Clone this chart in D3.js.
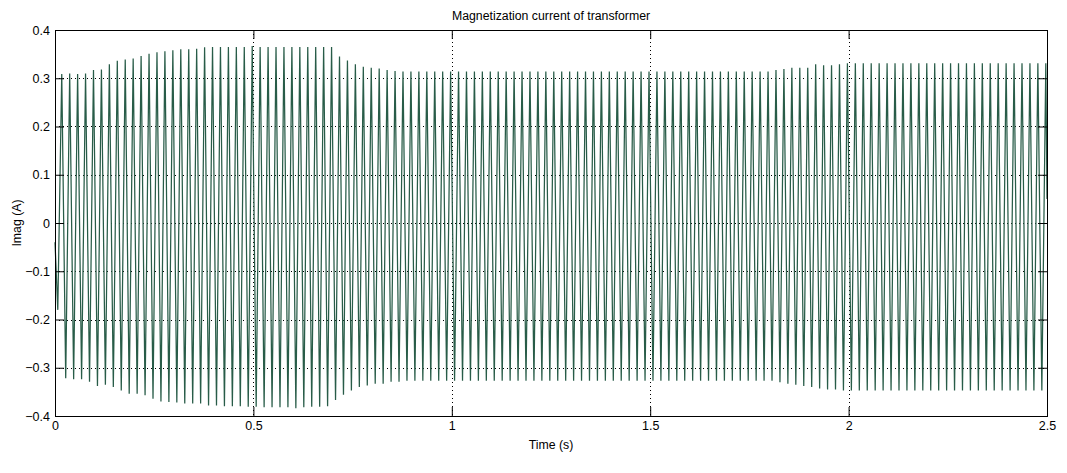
<!DOCTYPE html>
<html>
<head>
<meta charset="utf-8">
<script src="https://cdn.jsdelivr.net/npm/d3@7"></script>
<style>
body { margin: 0; background: #fff; }
text { font-family: Arial, "Liberation Sans", sans-serif; fill: #000; }
</style>
</head>
<body>
<div id="chart"></div>
<script>
// peak values read per cycle (50 Hz), positive peaks at 0.017 + 0.02*k
const posPeaks = [
  0.309, 0.310, 0.309, 0.310, 0.317, 0.318, 0.329, 0.336, 0.339, 0.341,
  0.346, 0.351, 0.354, 0.356, 0.358, 0.360, 0.360, 0.361, 0.364, 0.365,
  0.365, 0.365, 0.365, 0.365, 0.367, 0.365, 0.365, 0.365, 0.365, 0.365,
  0.365, 0.365, 0.365, 0.365, 0.365, 0.345, 0.337, 0.329, 0.324, 0.322,
  0.320, 0.317, 0.315, 0.314, 0.314, 0.314, 0.314, 0.314, 0.314, 0.314,
  0.314, 0.314, 0.314, 0.314, 0.314, 0.314, 0.314, 0.314, 0.314, 0.314,
  0.314, 0.314, 0.314, 0.314, 0.314, 0.314, 0.314, 0.314, 0.314, 0.314,
  0.314, 0.314, 0.314, 0.314, 0.314, 0.314, 0.314, 0.314, 0.314, 0.314,
  0.314, 0.314, 0.314, 0.314, 0.314, 0.314, 0.314, 0.314, 0.314, 0.314,
  0.317, 0.319, 0.322, 0.322, 0.322, 0.329, 0.327, 0.327, 0.329, 0.331,
  0.331, 0.331, 0.331, 0.331, 0.331, 0.331, 0.331, 0.331, 0.331, 0.331,
  0.331, 0.331, 0.331, 0.331, 0.331, 0.331, 0.331, 0.331, 0.331, 0.331,
  0.331, 0.331, 0.331, 0.331, 0.331
];
// negative peaks at 0.027 + 0.02*k
const negPeaks = [
  -0.322, -0.324, -0.324, -0.329, -0.338, -0.335, -0.340, -0.347, -0.354, -0.354,
  -0.357, -0.364, -0.370, -0.371, -0.372, -0.374, -0.374, -0.374, -0.378, -0.378,
  -0.380, -0.380, -0.380, -0.381, -0.381, -0.382, -0.382, -0.382, -0.382, -0.384,
  -0.382, -0.381, -0.381, -0.380, -0.367, -0.356, -0.347, -0.340, -0.337, -0.333,
  -0.333, -0.329, -0.329, -0.327, -0.327, -0.327, -0.327, -0.327, -0.327, -0.327,
  -0.327, -0.327, -0.327, -0.327, -0.327, -0.327, -0.327, -0.327, -0.327, -0.327,
  -0.327, -0.327, -0.327, -0.327, -0.327, -0.327, -0.327, -0.327, -0.327, -0.327,
  -0.327, -0.327, -0.327, -0.327, -0.327, -0.327, -0.327, -0.327, -0.327, -0.327,
  -0.327, -0.327, -0.327, -0.327, -0.327, -0.327, -0.327, -0.327, -0.327, -0.327,
  -0.330, -0.333, -0.335, -0.338, -0.340, -0.343, -0.345, -0.345, -0.347, -0.347,
  -0.347, -0.347, -0.347, -0.347, -0.347, -0.347, -0.347, -0.347, -0.347, -0.347,
  -0.347, -0.347, -0.347, -0.347, -0.347, -0.347, -0.347, -0.347, -0.347, -0.347,
  -0.347, -0.347, -0.347, -0.347
];
const startPoints = [[0, -0.04], [0.007, -0.18]];
const endPoints = [[2.5, 0.05]];
const firstPeak = 0.017, period = 0.02;

const xTicks = [0, 0.5, 1, 1.5, 2, 2.5];
const yTicks = [-0.4, -0.3, -0.2, -0.1, 0, 0.1, 0.2, 0.3, 0.4];

function buildPoints() {
    var pts = startPoints.slice();
    posPeaks.forEach((v, k) => {
        pts.push([firstPeak + period * k, v]);
        if (k < negPeaks.length) {
            pts.push([firstPeak + period * (k + 0.5), negPeaks[k]]);
        }
    });
    return pts.concat(endPoints);
}

function drawChart() {
    const W = 1067, H = 473;
    const margin = { top: 30, right: 20, bottom: 57, left: 55 },
        width = W - margin.left - margin.right,
        height = H - margin.top - margin.bottom;

    const root = d3.select("#chart").append("svg")
        .attr("width", W).attr("height", H);
    root.append("rect").attr("width", W).attr("height", H).attr("fill", "#fff");

    const svg = root.append("g")
        .attr("transform", `translate(${margin.left}, ${margin.top})`);

    const x = d3.scaleLinear().domain([0, 2.5]).range([0, width]);
    const y = d3.scaleLinear().domain([-0.4, 0.4]).range([height, 0]);

    // dotted grid
    svg.append("g").selectAll("line")
        .data(xTicks.slice(1, -1))
        .join("line")
        .attr("x1", d => Math.round(x(d)) + 0.5).attr("x2", d => Math.round(x(d)) + 0.5)
        .attr("y1", 0).attr("y2", height)
        .attr("stroke", "#000").attr("stroke-dasharray", "1,3");
    svg.append("g").selectAll("line")
        .data(yTicks.slice(1, -1))
        .join("line")
        .attr("y1", d => Math.round(y(d)) + 0.5).attr("y2", d => Math.round(y(d)) + 0.5)
        .attr("x1", 0).attr("x2", width)
        .attr("stroke", "#000").attr("stroke-dasharray", "1,3");

    // the current trace
    const line = d3.line()
        .x(d => x(d[0]))
        .y(d => y(d[1]));
    svg.append("path")
        .datum(buildPoints())
        .attr("d", line)
        .attr("fill", "none")
        .attr("stroke", "#285c48")
        .attr("stroke-width", 1.25);

    // axes, ticks pointing inward on all four sides
    const fmt = d3.format("");
    const bottom = svg.append("g").attr("transform", `translate(0, ${height})`)
        .call(d3.axisBottom(x).tickValues(xTicks).tickSize(-9).tickSizeOuter(0).tickPadding(5).tickFormat(fmt));
    const top = svg.append("g")
        .call(d3.axisTop(x).tickValues(xTicks).tickSize(-9).tickSizeOuter(0).tickFormat(""));
    const left = svg.append("g")
        .call(d3.axisLeft(y).tickValues(yTicks).tickSize(-9).tickSizeOuter(0).tickPadding(5).tickFormat(fmt));
    const right = svg.append("g").attr("transform", `translate(${width}, 0)`)
        .call(d3.axisRight(y).tickValues(yTicks).tickSize(-9).tickSizeOuter(0).tickFormat(""));
    [bottom, top, left, right].forEach(g => {
        g.select(".domain").remove();
        g.selectAll("text").attr("font-size", "12.5px").attr("font-family", "Arial, 'Liberation Sans', sans-serif");
        g.selectAll(".tick line").attr("stroke", "#000");
    });

    svg.append("rect")
        .attr("x", 0.5).attr("y", 0.5)
        .attr("width", width).attr("height", height)
        .attr("fill", "none").attr("stroke", "#000");

    root.append("text")
        .attr("x", margin.left + width / 2).attr("y", 20)
        .attr("text-anchor", "middle").attr("font-size", "12.3px")
        .text("Magnetization current of transformer");
    root.append("text")
        .attr("x", margin.left + width / 2).attr("y", 449)
        .attr("text-anchor", "middle").attr("font-size", "12.3px")
        .text("Time (s)");
    root.append("text")
        .attr("transform", `translate(21, ${margin.top + height / 2}) rotate(-90)`)
        .attr("text-anchor", "middle").attr("font-size", "12.3px")
        .text("Imag (A)");
}

drawChart();
</script>
</body>
</html>
